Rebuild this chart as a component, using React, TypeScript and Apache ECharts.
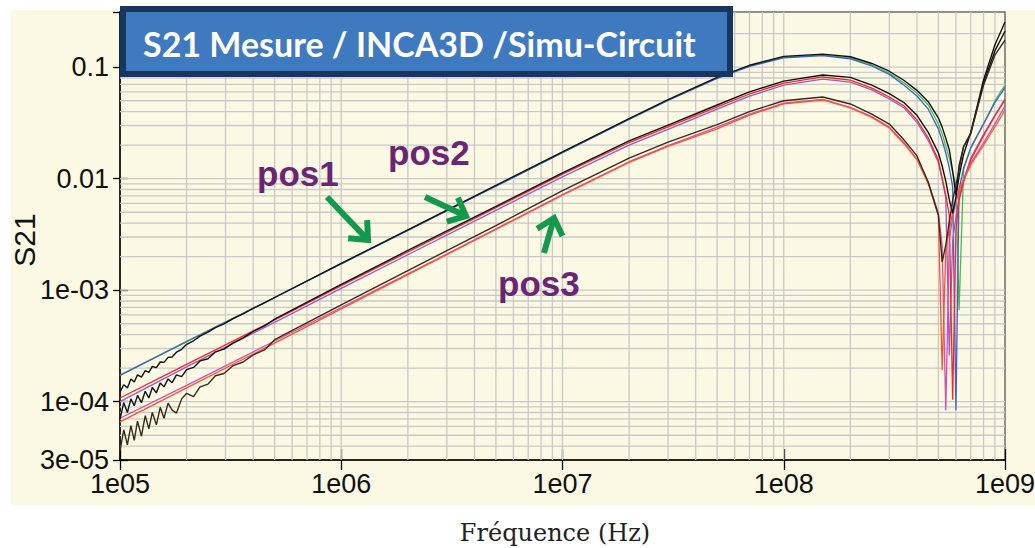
import React, { useEffect, useRef } from "react";
import * as echarts from "echarts";

// ---- Data ----
// Shared frequency grid (Hz) for simulated curves and the upper part of measured curves
const freqs = [1e5, 2e5, 5e5, 1e6, 2e6, 5e6, 1e7, 2e7, 3e7, 5e7, 7e7, 1e8, 1.5e8, 2e8, 2.5e8, 3e8, 3.5e8, 4e8, 4.5e8, 5e8, 5.2e8, 5.4e8, 5.6e8, 5.8e8, 6e8, 6.2e8, 6.5e8, 7e8, 8e8, 9e8, 1e9];
// Low-frequency grid for the noisy measured curves
const lowFreqs = [1.0e5, 1.04e5, 1.08e5, 1.12e5, 1.16e5, 1.2e5, 1.25e5, 1.3e5, 1.35e5, 1.4e5, 1.46e5, 1.52e5, 1.58e5, 1.65e5, 1.72e5, 1.8e5, 1.9e5, 2.0e5, 2.15e5, 2.3e5, 2.5e5, 2.7e5, 2.95e5, 3.25e5, 3.6e5, 4.0e5, 4.5e5];

// pos1 simulations
const pos1Green = [1.73e-4, 3.47e-4, 8.6e-4, 1.73e-3, 3.45e-3, 8.6e-3, 1.72e-2, 0.0343, 0.0508, 0.080, 0.1026, 0.123, 0.1285, 0.1208, 0.1047, 0.0887, 0.0721, 0.0586, 0.0458, 0.0309, 0.0252, 0.0196, 0.0153, 0.0115, 0.00877, 6.6e-4, 0.012, 0.0188, 0.0309, 0.0498, 0.0692];
const pos1Blue = [1.72e-4, 3.45e-4, 8.6e-4, 1.72e-3, 3.44e-3, 8.55e-3, 1.71e-2, 0.034, 0.0503, 0.0792, 0.1015, 0.1215, 0.127, 0.119, 0.1025, 0.0862, 0.069, 0.0552, 0.042, 0.028, 0.022, 0.017, 0.0125, 0.0085, 8.4e-5, 0.008, 0.0125, 0.019, 0.031, 0.048, 0.066];
// pos2 simulations
const pos2Red = [1.08e-4, 2.16e-4, 5.4e-4, 1.1e-3, 2.2e-3, 5.5e-3, 1.1e-2, 0.0211, 0.0291, 0.044, 0.0575, 0.072, 0.0817, 0.0767, 0.065, 0.054, 0.0449, 0.0336, 0.0232, 0.0147, 0.0101, 0.0071, 0.0047, 1.04e-4, 0.00347, 0.0064, 0.0093, 0.0147, 0.0242, 0.0365, 0.0508];
const pos2Purple = [1.0e-4, 2.05e-4, 5.15e-4, 1.04e-3, 2.08e-3, 5.2e-3, 1.04e-2, 0.020, 0.0277, 0.042, 0.055, 0.069, 0.078, 0.0735, 0.0625, 0.052, 0.043, 0.032, 0.022, 0.014, 0.0098, 0.0068, 2.6e-4, 0.0028, 0.0045, 0.0068, 0.0098, 0.0152, 0.025, 0.037, 0.052];
// pos3 simulations
const pos3Magenta = [7.1e-5, 1.4e-4, 3.5e-4, 7.0e-4, 1.4e-3, 3.55e-3, 7.2e-3, 0.0142, 0.0198, 0.029, 0.038, 0.0475, 0.0515, 0.0437, 0.036, 0.029, 0.021, 0.015, 0.0093, 0.0049, 0.0025, 8.4e-5, 0.0028, 0.0045, 0.0062, 0.0078, 0.0099, 0.0138, 0.021, 0.031, 0.045];
const pos3Orange = [6.6e-5, 1.33e-4, 3.35e-4, 6.8e-4, 1.38e-3, 3.5e-3, 7.1e-3, 0.014, 0.0195, 0.028, 0.0372, 0.0468, 0.0508, 0.0431, 0.0355, 0.0285, 0.0205, 0.0148, 0.009, 0.0047, 1.92e-4, 0.00229, 0.00347, 0.00502, 0.0064, 0.0079, 0.0097, 0.0133, 0.02, 0.0291, 0.0413];

// Measured curves: noisy low-frequency part (on lowFreqs) + upper part (on freqs from 5e5)
const pos1MeasLow = [1.22e-4, 1.42e-4, 1.33e-4, 1.6e-4, 1.5e-4, 1.74e-4, 1.66e-4, 1.9e-4, 1.83e-4, 2.07e-4, 2.02e-4, 2.27e-4, 2.25e-4, 2.5e-4, 2.52e-4, 2.78e-4, 2.95e-4, 3.27e-4, 3.52e-4, 3.87e-4, 4.2e-4, 4.62e-4, 4.98e-4, 5.57e-4, 6.12e-4, 6.87e-4, 7.68e-4];
const pos1MeasHigh = [8.6e-4, 1.74e-3, 3.48e-3, 8.7e-3, 1.74e-2, 0.0346, 0.0512, 0.081, 0.104, 0.125, 0.131, 0.124, 0.108, 0.092, 0.076, 0.062, 0.049, 0.035, 0.029, 0.023, 0.0182, 0.0117, 0.0071, 0.0131, 0.0194, 0.0257, 0.0767, 0.158, 0.254];
const pos2MeasLow = [7.0e-5, 9.8e-5, 8.0e-5, 1.06e-4, 9.2e-5, 1.14e-4, 9.8e-5, 1.24e-4, 1.08e-4, 1.34e-4, 1.2e-4, 1.47e-4, 1.36e-4, 1.6e-4, 1.48e-4, 1.74e-4, 1.68e-4, 1.94e-4, 2.03e-4, 2.32e-4, 2.43e-4, 2.8e-4, 2.96e-4, 3.37e-4, 3.73e-4, 4.27e-4, 4.78e-4];
const pos2MeasHigh = [5.5e-4, 1.13e-3, 2.27e-3, 5.65e-3, 1.13e-2, 0.0218, 0.0302, 0.0458, 0.060, 0.075, 0.085, 0.081, 0.069, 0.058, 0.048, 0.037, 0.026, 0.017, 0.013, 0.0095, 0.0065, 0.0049, 0.0068, 0.0105, 0.0165, 0.026, 0.072, 0.14, 0.21];
const pos3MeasLow = [3.6e-5, 5.6e-5, 4.1e-5, 6.1e-5, 4.5e-5, 6.7e-5, 4.9e-5, 7.5e-5, 5.7e-5, 8.0e-5, 6.2e-5, 8.9e-5, 7.1e-5, 9.7e-5, 8.4e-5, 7.9e-5, 1.06e-4, 1.19e-4, 1.11e-4, 1.36e-4, 1.44e-4, 1.71e-4, 1.79e-4, 2.11e-4, 2.27e-4, 2.63e-4, 2.91e-4];
const pos3MeasHigh = [3.6e-4, 7.4e-4, 1.5e-3, 3.8e-3, 7.8e-3, 0.0153, 0.0213, 0.0305, 0.040, 0.050, 0.054, 0.0468, 0.038, 0.0309, 0.0222, 0.016, 0.0093, 0.0047, 0.00179, 0.00254, 0.0041, 0.0064, 0.0088, 0.012, 0.0194, 0.0253, 0.069, 0.1285, 0.175];

// Axis ticks / labels
const xTickValues = [1e5, 1e6, 1e7, 1e8, 1e9];
const xTickLabels = ["1e05", "1e06", "1e07", "1e08", "1e09"];
const yTickValues = [3e-5, 1e-4, 1e-3, 1e-2, 1e-1];
const yTickLabels = ["3e-05", "1e-04", "1e-03", "0.01", "0.1"];
const X_MIN = 1e5, X_MAX = 1e9, Y_MIN = 3e-5, Y_MAX = 0.3126;
const gridMultipliers = [1, 2, 3, 4, 5, 6, 7, 8, 9];
const xDecades = [1e5, 1e6, 1e7, 1e8];
const yDecades = [1e-5, 1e-4, 1e-3, 1e-2, 1e-1];

const LABEL_FONT = "'Liberation Sans Narrow', 'Arial Narrow', 'Liberation Sans', Arial, sans-serif";
const GRID_COLOR = "#c9c9c9";
const ARROW_GREEN = "#12994c";

function zip(xs: number[], ys: number[]) {
  return xs.map((x, i) => [x, ys[i]]);
}

function labelFor(values: number[], labels: string[]) {
  return (v: number) => {
    const lv = Math.log10(v);
    for (let i = 0; i < values.length; i++) {
      if (Math.abs(Math.log10(values[i]) - lv) < 1e-4) return labels[i];
    }
    return "";
  };
}

function arrow(x1: number, y1: number, x2: number, y2: number) {
  const dx = x2 - x1, dy = y2 - y1;
  const len = Math.hypot(dx, dy);
  const ux = dx / len, uy = dy / len;
  const L = 20, a = 0.72;
  const c = Math.cos(a), s = Math.sin(a);
  const w1 = [x2 - L * (ux * c - uy * s), y2 - L * (uy * c + ux * s)];
  const w2 = [x2 - L * (ux * c + uy * s), y2 - L * (uy * c - ux * s)];
  return [
    { type: "line", z: 50, shape: { x1, y1, x2: x2 - 3 * ux, y2: y2 - 3 * uy }, style: { stroke: ARROW_GREEN, lineWidth: 6 } },
    { type: "polyline", z: 50, shape: { points: [w1, [x2, y2], w2] }, style: { stroke: ARROW_GREEN, lineWidth: 6, fill: "none", lineJoin: "miter" } },
  ];
}

export default function App() {
  const ref = useRef<HTMLDivElement>(null);

  useEffect(() => {
    if (!ref.current) return;
    const chart = echarts.init(ref.current, undefined, { renderer: "svg" });

    const vLines: number[][] = [];
    xDecades.forEach((d) => gridMultipliers.forEach((m) => {
      const f = m * d;
      if (f > X_MIN * 1.001 && f < X_MAX * 0.999) vLines.push([f, Y_MIN]);
    }));
    const hLines: number[][] = [];
    yDecades.forEach((d) => gridMultipliers.forEach((m) => {
      const v = m * d;
      if (v > Y_MIN * 1.01 && v < 0.29) hLines.push([X_MIN, v]);
    }));

    const lineSeries = (name: string, data: number[][], color: string, width = 1.3) => ({
      name,
      type: "line",
      data,
      showSymbol: false,
      symbol: "none",
      silent: true,
      z: 3,
      lineStyle: { color, width },
    });

    const measFreqs = [...lowFreqs, ...freqs.slice(2)];

    const option: any = {
      animation: false,
      backgroundColor: "transparent",
      grid: {
        left: 120, top: 12, width: 885, height: 448,
        outerBoundsMode: "none",
        containLabel: false,
        show: true, borderColor: "#6e6e6e", borderWidth: 1.5, backgroundColor: "transparent",
      },
      xAxis: [
        {
          type: "log", logBase: 10, min: X_MIN, max: X_MAX,
          splitLine: { show: false },
          axisLine: { lineStyle: { color: "#000", width: 1.5 } },
          axisTick: { inside: true, length: 11, lineStyle: { color: "#000", width: 1.3 } },
          axisLabel: { formatter: labelFor(xTickValues, xTickLabels), fontSize: 27, fontFamily: LABEL_FONT, color: "#111", margin: 10 },
        },
        {
          type: "log", logBase: 10, min: X_MIN, max: X_MAX, position: "bottom",
          splitLine: { show: false },
          axisLine: { show: false },
          axisTick: { inside: false, length: 10, lineStyle: { color: "#000", width: 1.3 } },
          axisLabel: { show: false },
        },
      ],
      yAxis: [
        {
          type: "log", logBase: 10, min: Y_MIN, max: Y_MAX,
          splitLine: { show: false },
          axisLine: { lineStyle: { color: "#000", width: 1.5 } },
          axisTick: { inside: true, length: 8, lineStyle: { color: "#000", width: 1.3 } },
          axisLabel: { formatter: labelFor(yTickValues, yTickLabels), fontSize: 27, fontFamily: LABEL_FONT, color: "#111", margin: 11 },
        },
        {
          type: "log", logBase: 10, min: Y_MIN, max: Y_MAX, position: "left",
          splitLine: { show: false },
          axisLine: { show: false },
          axisTick: { inside: false, length: 7, lineStyle: { color: "#000", width: 1.3 } },
          axisLabel: { show: false },
        },
      ],
      series: [
        {
          type: "custom", silent: true, z: 1, data: vLines, encode: { x: 0, y: 1 },
          renderItem: (params: any, api: any) => {
            const f = api.value(0);
            const a = api.coord([f, Y_MIN]);
            const b = api.coord([f, Y_MAX]);
            return { type: "line", shape: { x1: a[0], y1: a[1], x2: b[0], y2: b[1] }, style: { stroke: GRID_COLOR, lineWidth: 1.3 } };
          },
        },
        {
          type: "custom", silent: true, z: 1, data: hLines, encode: { x: 0, y: 1 },
          renderItem: (params: any, api: any) => {
            const v = api.value(1);
            const a = api.coord([X_MIN, v]);
            const b = api.coord([X_MAX, v]);
            return { type: "line", shape: { x1: a[0], y1: a[1], x2: b[0], y2: b[1] }, style: { stroke: GRID_COLOR, lineWidth: 1.3 } };
          },
        },
        lineSeries("pos1 sim A", zip(freqs, pos1Green), "#4cb84f"),
        lineSeries("pos1 sim B", zip(freqs, pos1Blue), "#3d62c8"),
        lineSeries("pos2 sim B", zip(freqs, pos2Purple), "#9a5cc6"),
        lineSeries("pos2 sim A", zip(freqs, pos2Red), "#ff2424"),
        lineSeries("pos3 sim B", zip(freqs, pos3Magenta), "#d050b4"),
        lineSeries("pos3 sim A", zip(freqs, pos3Orange), "#ff5526"),
        lineSeries("pos1 mesure", zip(measFreqs, [...pos1MeasLow, ...pos1MeasHigh]), "#111111", 1.4),
        lineSeries("pos2 mesure", zip(measFreqs, [...pos2MeasLow, ...pos2MeasHigh]), "#111111", 1.4),
        lineSeries("pos3 mesure", zip(measFreqs, [...pos3MeasLow, ...pos3MeasHigh]), "#3a2a1a", 1.4),
      ],
      graphic: [
        {
          type: "rect", z: 100,
          shape: { x: 123, y: 9, width: 607, height: 65 },
          style: { fill: "#3f79bf", stroke: "#17375e", lineWidth: 6 },
        },
        {
          type: "text", z: 101, x: 143, y: 43,
          style: { text: "S21 Mesure / INCA3D /Simu-Circuit", fill: "#ffffff", font: "bold 34px Lato, 'Open Sans', sans-serif", align: "left", verticalAlign: "middle" },
        },
        {
          type: "text", z: 60, x: 24, y: 240, rotation: Math.PI / 2,
          style: { text: "S21", fill: "#111111", font: "30px 'Liberation Sans', Arial, sans-serif", align: "center", verticalAlign: "middle" },
        },
        { type: "text", z: 60, x: 257, y: 173, style: { text: "pos1", fill: "#6b2575", font: "bold 35px 'Liberation Sans', Arial, sans-serif", align: "left", verticalAlign: "middle" } },
        { type: "text", z: 60, x: 388, y: 152, style: { text: "pos2", fill: "#6b2575", font: "bold 35px 'Liberation Sans', Arial, sans-serif", align: "left", verticalAlign: "middle" } },
        { type: "text", z: 60, x: 498, y: 283, style: { text: "pos3", fill: "#6b2575", font: "bold 35px 'Liberation Sans', Arial, sans-serif", align: "left", verticalAlign: "middle" } },
        ...arrow(327, 197, 368, 240),
        ...arrow(425, 197, 466, 216),
        ...arrow(544, 253, 554, 218),
        {
          type: "text", z: 60, x: 555, y: 533,
          style: { text: "Fréquence (Hz)", fill: "#222222", font: "24px 'DejaVu Serif', serif", align: "center", verticalAlign: "middle" },
        },
      ],
    };

    chart.setOption(option);
    return () => chart.dispose();
  }, []);

  return (
    <div style={{ position: "absolute", left: 0, top: 0, width: 1035, height: 548, background: "#ffffff", overflow: "hidden" }}>
      <div style={{ position: "absolute", left: 11, top: 10, width: 1024, height: 495, background: "#fbf8e3" }} />
      <div ref={ref} style={{ position: "absolute", left: 0, top: 0, width: 1035, height: 548 }} />
    </div>
  );
}
